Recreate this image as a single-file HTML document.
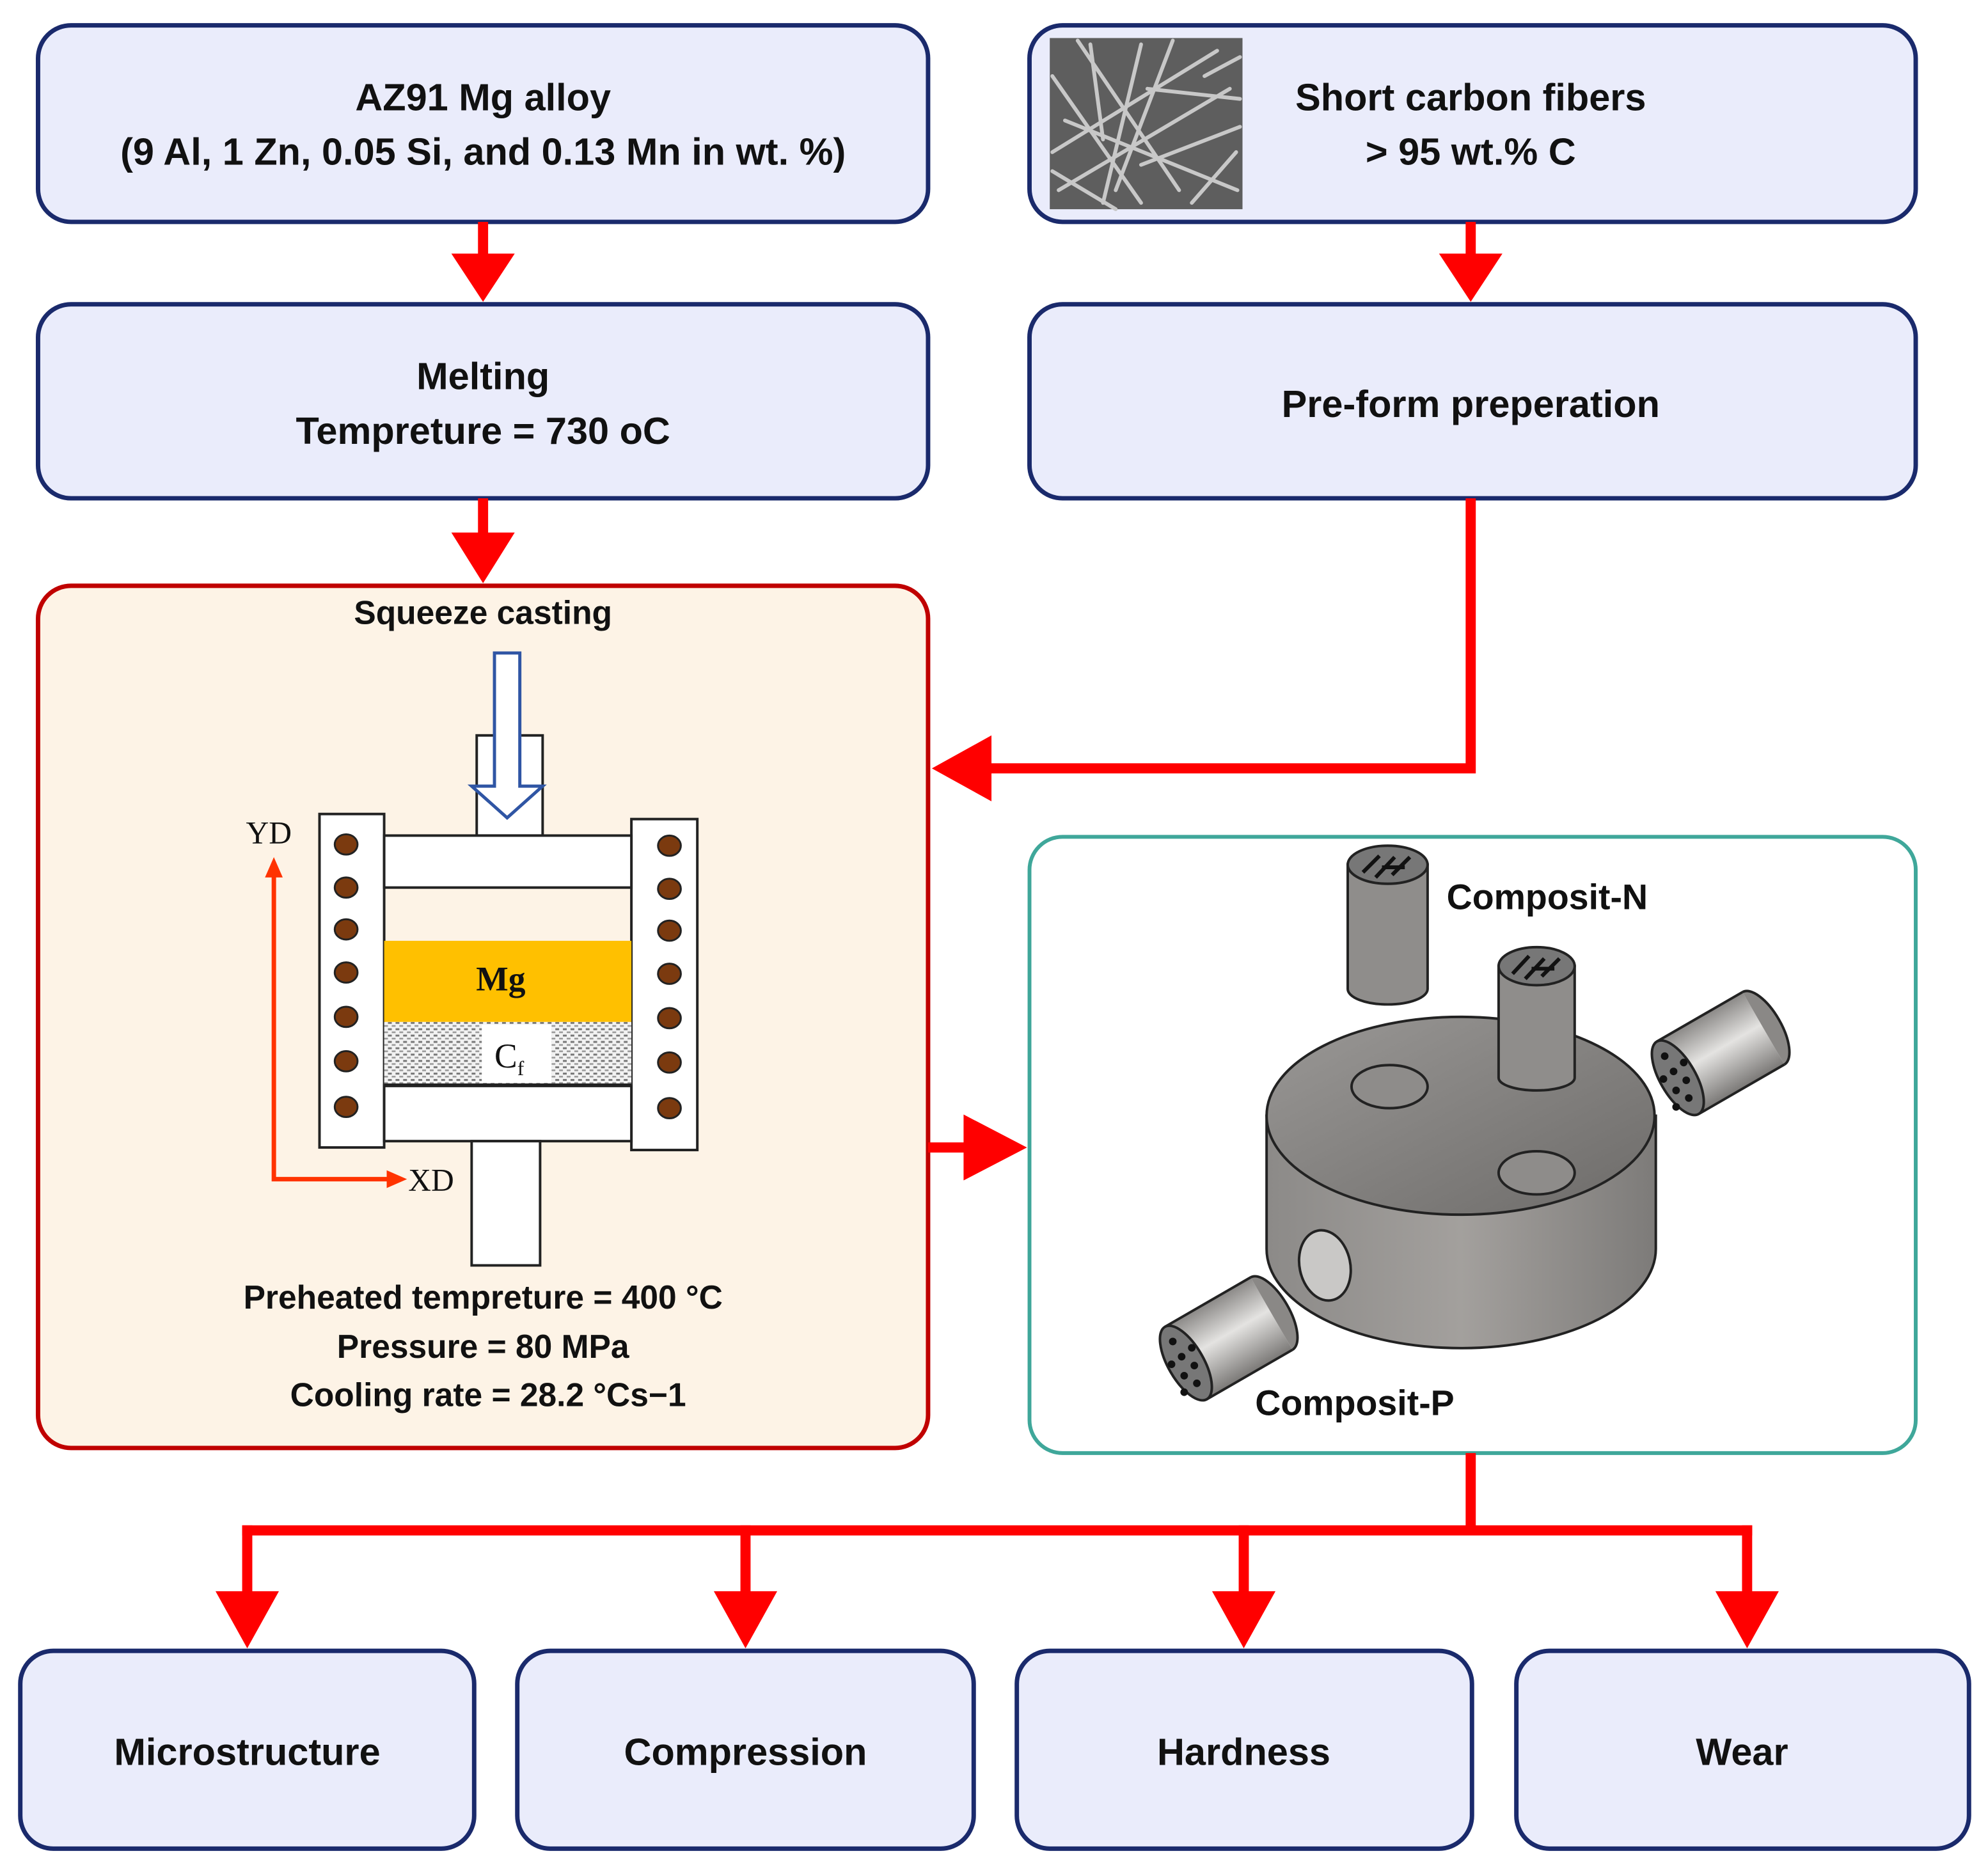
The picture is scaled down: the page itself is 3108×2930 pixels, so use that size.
<!DOCTYPE html>
<html><head><meta charset="utf-8"><style>
html,body{margin:0;padding:0;background:#fff;}
svg{display:block;}
text{font-family:"Liberation Sans",sans-serif;font-weight:bold;fill:#111;}
</style></head><body>
<svg width="3108" height="2930" viewBox="0 0 1568 1478" preserveAspectRatio="none" xmlns="http://www.w3.org/2000/svg">
<defs>
<pattern id="dots" width="6" height="5" patternUnits="userSpaceOnUse"><rect width="6" height="5" fill="#f2f2f2"/><rect x="0" y="1" width="3" height="1.5" fill="#777"/><rect x="3" y="3.5" width="3" height="1.3" fill="#999"/></pattern>
<linearGradient id="cyl" x1="0" y1="0" x2="1" y2="0"><stop offset="0" stop-color="#8c8a88"/><stop offset="0.5" stop-color="#a3a09d"/><stop offset="1" stop-color="#7d7b79"/></linearGradient>
<linearGradient id="top" x1="0" y1="0" x2="1" y2="1"><stop offset="0" stop-color="#9a9896"/><stop offset="0.6" stop-color="#7f7d7b"/><stop offset="1" stop-color="#6d6b69"/></linearGradient>
<linearGradient id="shiny" x1="0" y1="0" x2="0" y2="1"><stop offset="0" stop-color="#8a8886"/><stop offset="0.45" stop-color="#e4e3e1"/><stop offset="1" stop-color="#7a7876"/></linearGradient>
</defs>

<!-- top boxes -->
<rect x="30" y="20" width="702" height="155" rx="26" fill="#eaecfb" stroke="#1a2a6c" stroke-width="3.5"/>
<rect x="812" y="20" width="699" height="155" rx="26" fill="#eaecfb" stroke="#1a2a6c" stroke-width="3.5"/>
<rect x="30" y="240" width="702" height="153" rx="26" fill="#eaecfb" stroke="#1a2a6c" stroke-width="3.5"/>
<rect x="812" y="240" width="699" height="153" rx="26" fill="#eaecfb" stroke="#1a2a6c" stroke-width="3.5"/>
<text x="381" y="87" font-size="30" text-anchor="middle">AZ91 Mg alloy</text>
<text x="381" y="130" font-size="30" text-anchor="middle">(9 Al, 1 Zn, 0.05 Si, and 0.13 Mn in wt. %)</text>
<text x="1160" y="87" font-size="30" text-anchor="middle">Short carbon fibers</text>
<text x="1160" y="130" font-size="30" text-anchor="middle">&gt; 95 wt.% C</text>
<text x="381" y="307" font-size="30" text-anchor="middle">Melting</text>
<text x="381" y="350" font-size="30" text-anchor="middle">Tempreture = 730 oC</text>
<text x="1160" y="329" font-size="30" text-anchor="middle">Pre-form preperation</text>

<!-- fiber image -->
<rect x="828" y="30" width="152" height="135" fill="#5e5e5e"/>
<g stroke="#c8c8c8" stroke-width="3" stroke-linecap="round" clip-path="inset(0)">
<line x1="830" y1="60" x2="900" y2="160"/><line x1="850" y1="32" x2="930" y2="150"/><line x1="830" y1="120" x2="960" y2="40"/><line x1="870" y1="160" x2="900" y2="35"/><line x1="900" y1="130" x2="978" y2="100"/><line x1="840" y1="95" x2="976" y2="150"/><line x1="925" y1="32" x2="880" y2="150"/><line x1="950" y1="60" x2="978" y2="45"/><line x1="835" y1="150" x2="970" y2="70"/><line x1="940" y1="160" x2="975" y2="120"/><line x1="860" y1="35" x2="870" y2="110"/><line x1="830" y1="135" x2="880" y2="165"/><line x1="905" y1="70" x2="978" y2="78"/>
</g>

<!-- arrows top -->
<g fill="#ff0000">
<rect x="377" y="175" width="8" height="28"/><polygon points="356,200 406,200 381,238"/>
<rect x="1156" y="175" width="8" height="28"/><polygon points="1135,200 1185,200 1160,238"/>
<rect x="377" y="393" width="8" height="30"/><polygon points="356,420 406,420 381,460"/>
</g>

<!-- squeeze box -->
<rect x="30" y="462" width="702" height="680" rx="26" fill="#fdf3e6" stroke="#c00000" stroke-width="3.5"/>
<text x="381" y="492" font-size="26" text-anchor="middle">Squeeze casting</text>
<!-- preform connector -->
<polyline points="1160,393 1160,606 780,606" fill="none" stroke="#ff0000" stroke-width="8"/>
<polygon points="735,606 782,580 782,632" fill="#ff0000"/>
<!-- arrow to composite -->
<rect x="732" y="901" width="32" height="8" fill="#ff0000"/>
<polygon points="760,879 760,931 810,905" fill="#ff0000"/>

<!-- die -->
<g stroke="#222" stroke-width="2">
<rect x="376" y="580" width="52" height="79" fill="#fff"/>
<rect x="252" y="642" width="51" height="263" fill="#fff"/>
<rect x="498" y="646" width="52" height="261" fill="#fff"/>
<rect x="303" y="659" width="195" height="41" fill="#fff"/>
<rect x="303" y="856" width="195" height="44" fill="#fff"/>
<rect x="372" y="900" width="54" height="98" fill="#fff"/>
</g>
<rect x="303" y="742" width="195" height="64" fill="#ffc000"/>
<rect x="303" y="806" width="195" height="50" fill="url(#dots)"/>
<rect x="380" y="808" width="55" height="46" fill="#fff"/>
<line x1="303" y1="856" x2="498" y2="856" stroke="#222" stroke-width="3"/>
<text x="395" y="781" font-size="27" text-anchor="middle" style="font-family:'Liberation Serif',serif">Mg</text>
<text x="390" y="842" font-size="27" style="font-family:'Liberation Serif',serif;font-weight:normal">C<tspan font-size="16" dy="6">f</tspan></text>
<!-- blue arrow -->
<polygon points="390,515 410,515 410,620 428,620 400,645 372,620 390,620" fill="#fff" stroke="#2f55a4" stroke-width="2.5"/>
<!-- coils -->
<g fill="#7b3a0f" stroke="#222" stroke-width="1.5">
<ellipse cx="273" cy="666" rx="9" ry="8"/><ellipse cx="273" cy="700" rx="9" ry="8"/><ellipse cx="273" cy="733" rx="9" ry="8"/><ellipse cx="273" cy="767" rx="9" ry="8"/><ellipse cx="273" cy="802" rx="9" ry="8"/><ellipse cx="273" cy="837" rx="9" ry="8"/><ellipse cx="273" cy="873" rx="9" ry="8"/>
<ellipse cx="528" cy="667" rx="9" ry="8"/><ellipse cx="528" cy="701" rx="9" ry="8"/><ellipse cx="528" cy="734" rx="9" ry="8"/><ellipse cx="528" cy="768" rx="9" ry="8"/><ellipse cx="528" cy="803" rx="9" ry="8"/><ellipse cx="528" cy="838" rx="9" ry="8"/><ellipse cx="528" cy="874" rx="9" ry="8"/>
</g>
<!-- axes -->
<polyline points="216,690 216,930 308,930" fill="none" stroke="#ff3300" stroke-width="3.5"/>
<polygon points="209,692 223,692 216,676" fill="#ff3300"/>
<polygon points="305,923 305,937 321,930" fill="#ff3300"/>
<text x="194" y="665" font-size="25" style="font-family:'Liberation Serif',serif;font-weight:normal">YD</text>
<text x="322" y="939" font-size="25" style="font-family:'Liberation Serif',serif;font-weight:normal">XD</text>
<text x="381" y="1032" font-size="26" text-anchor="middle">Preheated tempreture = 400 °C</text>
<text x="381" y="1071" font-size="26" text-anchor="middle">Pressure = 80 MPa</text>
<text x="385" y="1109" font-size="26" text-anchor="middle">Cooling rate = 28.2 °Cs−1</text>

<!-- composite box -->
<rect x="812" y="660" width="699" height="486" rx="26" fill="#fff" stroke="#3fa79a" stroke-width="3"/>
<g stroke="#222" stroke-width="2">
<!-- main cylinder body -->
<path d="M999,880 L999,985 A153,78 0 0 0 1306,985 L1306,880 Z" fill="url(#cyl)"/>
<ellipse cx="1152" cy="880" rx="153" ry="78" fill="url(#top)"/>
<ellipse cx="1096" cy="857" rx="30" ry="17" fill="#8e8c8a"/>
<ellipse cx="1212" cy="925" rx="30" ry="17" fill="#8e8c8a"/>
<ellipse cx="1045" cy="998" rx="20" ry="28" fill="#c9c8c6" transform="rotate(-12 1045 998)"/>
<!-- standing rod -->
<path d="M1182,762 L1182,850 A30,10 0 0 0 1242,850 L1242,762 Z" fill="#8f8d8b"/>
<ellipse cx="1212" cy="762" rx="30" ry="15" fill="#777"/>
<!-- loose rod -->
<path d="M1063,682 L1063,780 A31,12 0 0 0 1126,780 L1126,682 Z" fill="#8f8d8b"/>
<ellipse cx="1094.5" cy="682" rx="31.5" ry="15" fill="#777"/>
<!-- right tilted cylinder -->
<g transform="translate(1358,830) rotate(-30)">
<rect x="-40" y="-33" width="78" height="66" fill="url(#shiny)" stroke="none"/>
<line x1="-40" y1="-33" x2="38" y2="-33"/><line x1="-40" y1="33" x2="38" y2="33"/>
<path d="M38,-33 A14,33 0 0 1 38,33" fill="#8a8886"/>
<ellipse cx="-40" cy="0" rx="14" ry="33" fill="#777"/>
</g>
<!-- bottom-left cylinder -->
<g transform="translate(970,1055) rotate(-30)">
<rect x="-40" y="-33" width="78" height="66" fill="url(#shiny)" stroke="none"/>
<line x1="-40" y1="-33" x2="38" y2="-33"/><line x1="-40" y1="33" x2="38" y2="33"/>
<path d="M38,-33 A14,33 0 0 1 38,33" fill="#8a8886"/>
<ellipse cx="-40" cy="0" rx="14" ry="33" fill="#777"/>
</g>
</g>
<g fill="#111">
<circle cx="1313" cy="833" r="3"/><circle cx="1320" cy="845" r="3"/><circle cx="1312" cy="851" r="3"/><circle cx="1328" cy="838" r="3"/><circle cx="1330" cy="852" r="3"/><circle cx="1322" cy="860" r="3"/><circle cx="1332" cy="866" r="3"/><circle cx="1322" cy="873" r="3"/>
<circle cx="925" cy="1058" r="3"/><circle cx="932" cy="1070" r="3"/><circle cx="924" cy="1076" r="3"/><circle cx="940" cy="1063" r="3"/><circle cx="942" cy="1077" r="3"/><circle cx="934" cy="1085" r="3"/><circle cx="944" cy="1091" r="3"/><circle cx="934" cy="1098" r="3"/>
</g>
<g stroke="#111" stroke-width="3">
<line x1="1075" y1="688" x2="1088" y2="675"/><line x1="1085" y1="692" x2="1100" y2="676"/><line x1="1098" y1="690" x2="1112" y2="676"/><line x1="1090" y1="684" x2="1108" y2="684"/>
<line x1="1193" y1="768" x2="1206" y2="754"/><line x1="1203" y1="772" x2="1218" y2="756"/><line x1="1216" y1="770" x2="1230" y2="756"/><line x1="1208" y1="764" x2="1226" y2="764"/>
</g>
<text x="1141" y="717" font-size="28">Composit-N</text>
<text x="990" y="1116" font-size="28">Composit-P</text>

<!-- bottom connectors -->
<g fill="#ff0000">
<rect x="1156" y="1146" width="8" height="62"/>
<rect x="191" y="1203" width="1191" height="8"/>
<rect x="191" y="1203" width="8" height="56"/><polygon points="170,1255 220,1255 195,1300"/>
<rect x="584" y="1203" width="8" height="56"/><polygon points="563,1255 613,1255 588,1300"/>
<rect x="977" y="1203" width="8" height="56"/><polygon points="956,1255 1006,1255 981,1300"/>
<rect x="1374" y="1203" width="8" height="56"/><polygon points="1353,1255 1403,1255 1378,1300"/>
</g>
<g fill="#eaecfb" stroke="#1a2a6c" stroke-width="3.5">
<rect x="16" y="1302" width="358" height="156" rx="26"/>
<rect x="408" y="1302" width="360" height="156" rx="26"/>
<rect x="802" y="1302" width="359" height="156" rx="26"/>
<rect x="1196" y="1302" width="357" height="156" rx="26"/>
</g>
<text x="195" y="1392" font-size="30" text-anchor="middle">Microstructure</text>
<text x="588" y="1392" font-size="30" text-anchor="middle">Compression</text>
<text x="981" y="1392" font-size="30" text-anchor="middle">Hardness</text>
<text x="1374" y="1392" font-size="30" text-anchor="middle">Wear</text>
</svg>
</body></html>
